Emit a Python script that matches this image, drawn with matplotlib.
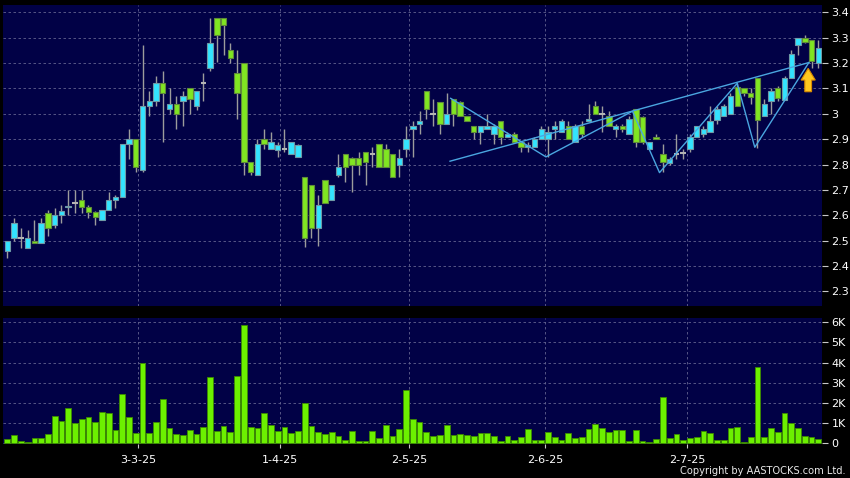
import matplotlib
matplotlib.use('Agg')
import matplotlib.pyplot as plt
from matplotlib.patches import FancyArrow
import numpy as np

# daily OHLC (121 sessions, Feb-Jul 2025)
opens = [2.46, 2.51, 2.51, 2.47, 2.50, 2.49, 2.61, 2.56, 2.60, 2.632, 2.65, 2.66, 2.632, 2.612, 2.58, 2.62, 2.66, 2.671, 2.88, 2.90,
         2.78, 3.03, 3.05, 3.12, 3.02, 3.04, 3.05, 3.10, 3.03, 3.12, 3.18, 3.376, 3.376, 3.25, 3.16, 3.20, 2.81, 2.76, 2.90, 2.86,
         2.857, 2.86, 2.84, 2.83, 2.75, 2.72, 2.55, 2.74, 2.66, 2.76, 2.84, 2.826, 2.826, 2.848, 2.84, 2.879, 2.86, 2.84, 2.80, 2.86,
         2.94, 2.96, 3.09, 3.00, 3.048, 2.96, 3.06, 3.048, 2.99, 2.95, 2.93, 2.94, 2.92, 2.97, 2.91, 2.92, 2.89, 2.87, 2.87, 2.90,
         2.90, 2.94, 2.93, 2.95, 2.89, 2.95, 2.97, 3.03, 3.00, 2.99, 2.94, 2.95, 2.92, 3.017, 2.987, 2.86, 2.91, 2.84, 2.807, 2.84,
         2.845, 2.86, 2.91, 2.92, 2.93, 2.975, 2.99, 3.00, 3.105, 3.10, 3.08, 3.14, 2.99, 3.05, 3.10, 3.056, 3.14, 3.27, 3.30, 3.29,
         3.20]
highs = [2.50, 2.59, 2.55, 2.54, 2.58, 2.59, 2.62, 2.63, 2.64, 2.70, 2.70, 2.70, 2.64, 2.615, 2.62, 2.69, 2.68, 2.88, 2.94, 2.90,
         3.27, 3.09, 3.15, 3.17, 3.10, 3.07, 3.09, 3.10, 3.09, 3.16, 3.376, 3.376, 3.376, 3.28, 3.25, 3.20, 2.81, 2.90, 2.94, 2.93,
         2.89, 2.94, 2.89, 2.88, 2.75, 2.72, 2.68, 2.74, 2.72, 2.84, 2.84, 2.83, 2.85, 2.85, 2.87, 2.88, 2.88, 2.84, 2.86, 2.95,
         2.97, 3.01, 3.09, 3.06, 3.048, 3.08, 3.06, 3.05, 2.99, 2.95, 2.95, 3.00, 2.96, 2.97, 2.93, 2.93, 2.89, 2.89, 2.91, 2.95,
         2.95, 2.97, 2.98, 2.97, 2.96, 2.97, 3.04, 3.05, 3.03, 3.01, 2.96, 2.96, 2.99, 3.017, 2.99, 2.89, 2.92, 2.88, 2.83, 2.92,
         2.86, 2.92, 2.95, 2.95, 3.03, 3.03, 3.04, 3.08, 3.12, 3.10, 3.10, 3.14, 3.06, 3.10, 3.11, 3.15, 3.25, 3.30, 3.31, 3.29,
         3.29]
lows = [2.43, 2.50, 2.47, 2.47, 2.49, 2.49, 2.52, 2.55, 2.57, 2.60, 2.61, 2.61, 2.59, 2.56, 2.58, 2.62, 2.63, 2.67, 2.82, 2.77,
        2.77, 2.99, 3.03, 2.89, 3.00, 2.94, 2.95, 3.00, 3.015, 3.05, 3.17, 3.205, 3.23, 3.20, 2.98, 2.76, 2.76, 2.76, 2.86, 2.86,
        2.83, 2.85, 2.84, 2.83, 2.475, 2.51, 2.48, 2.65, 2.66, 2.75, 2.73, 2.69, 2.76, 2.72, 2.79, 2.79, 2.79, 2.75, 2.75, 2.83,
        2.83, 2.92, 2.98, 2.95, 2.92, 2.96, 2.95, 2.99, 2.97, 2.90, 2.88, 2.94, 2.88, 2.88, 2.91, 2.89, 2.85, 2.85, 2.87, 2.90,
        2.83, 2.90, 2.93, 2.90, 2.89, 2.91, 2.97, 3.00, 2.93, 2.95, 2.91, 2.93, 2.92, 2.87, 2.88, 2.86, 2.90, 2.77, 2.80, 2.82,
        2.82, 2.85, 2.91, 2.91, 2.93, 2.96, 2.99, 3.00, 3.03, 3.07, 3.04, 2.865, 2.99, 3.00, 3.05, 3.056, 3.14, 3.23, 3.28, 3.18,
        3.18]
closes = [2.50, 2.57, 2.51, 2.51, 2.489, 2.57, 2.55, 2.60, 2.615, 2.638, 2.65, 2.632, 2.612, 2.592, 2.62, 2.66, 2.671, 2.88, 2.90, 2.79,
          3.03, 3.05, 3.12, 3.08, 3.04, 3.00, 3.07, 3.06, 3.09, 3.12, 3.28, 3.31, 3.35, 3.22, 3.08, 2.81, 2.77, 2.88, 2.88, 2.89,
          2.878, 2.86, 2.89, 2.877, 2.51, 2.55, 2.64, 2.65, 2.72, 2.79, 2.79, 2.80, 2.80, 2.81, 2.84, 2.79, 2.79, 2.75, 2.826, 2.90,
          2.952, 2.97, 3.02, 3.00, 2.958, 3.00, 3.00, 2.99, 2.97, 2.93, 2.95, 2.95, 2.95, 2.91, 2.92, 2.89, 2.87, 2.875, 2.90, 2.94,
          2.93, 2.95, 2.97, 2.90, 2.95, 2.92, 2.98, 3.00, 3.00, 2.95, 2.953, 2.94, 2.98, 2.89, 2.89, 2.89, 2.90, 2.81, 2.82, 2.84,
          2.845, 2.91, 2.95, 2.94, 2.97, 3.02, 3.03, 3.07, 3.03, 3.08, 3.065, 2.975, 3.04, 3.09, 3.064, 3.14, 3.236, 3.30, 3.285, 3.21,
          3.26]
# turnover in thousands
volumes = [0.21, 0.40, 0.12, 0.05, 0.28, 0.28, 0.45, 1.37, 1.09, 1.74, 0.99, 1.22, 1.29, 1.06, 1.57, 1.50, 0.68, 2.46, 1.29, 0.50,
           3.98, 0.51, 1.06, 2.21, 0.76, 0.46, 0.43, 0.66, 0.46, 0.81, 3.27, 0.63, 0.84, 0.55, 3.32, 5.85, 0.83, 0.74, 1.49, 0.91,
           0.61, 0.79, 0.51, 0.63, 2.00, 0.86, 0.58, 0.46, 0.56, 0.38, 0.15, 0.60, 0.13, 0.13, 0.60, 0.25, 0.93, 0.36, 0.69, 2.64,
           1.21, 1.07, 0.56, 0.36, 0.40, 0.91, 0.41, 0.48, 0.41, 0.38, 0.50, 0.51, 0.35, 0.12, 0.35, 0.17, 0.33, 0.69, 0.17, 0.17,
           0.55, 0.31, 0.18, 0.51, 0.26, 0.33, 0.71, 0.96, 0.76, 0.55, 0.64, 0.64, 0.10, 0.64, 0.13, 0.08, 0.23, 2.31, 0.28, 0.46,
           0.17, 0.25, 0.31, 0.60, 0.53, 0.17, 0.18, 0.78, 0.79, 0.07, 0.30, 3.77, 0.33, 0.76, 0.55, 1.49, 1.01, 0.74, 0.36, 0.30,
           0.20]

date_pos = [19.3, 40.4, 59.5, 79.6, 100.6]
date_labels = ['3-3-25', '1-4-25', '2-5-25', '2-6-25', '2-7-25']
price_ticks = [2.3, 2.4, 2.5, 2.6, 2.7, 2.8, 2.9, 3.0, 3.1, 3.2, 3.3, 3.4]
vol_ticks = [0, 1, 2, 3, 4, 5, 6]
vol_labels = ['0', '1K', '2K', '3K', '4K', '5K', '6K']

# zigzag / trendline overlay
zz_x = [65.6, 79.7, 92.5, 96.5, 108.0, 110.6, 118.6]
zz_y = [3.061, 2.830, 3.010, 2.768, 3.120, 2.868, 3.202]
trend_x = [65.5, 118.6]
trend_y = [2.813, 3.202]
arrow_x, arrow_base, arrow_tip = 118.5, 3.087, 3.179

navy = '#010146'
grid_col = '#62628f'
cyan = '#33e4ff'
green = '#80e622'

o = np.array(opens); h = np.array(highs); l = np.array(lows); c = np.array(closes)
x = np.arange(len(o))

fig = plt.figure(figsize=(8.5, 4.78), dpi=100, facecolor='black')
ax = fig.add_axes([3.3/850, 1-306/478, 818.4/850, 301/478])
ax2 = fig.add_axes([3.3/850, 1-443.5/478, 818.4/850, 125.5/478])

for a in (ax, ax2):
    a.set_facecolor(navy)
    for s in a.spines.values():
        s.set_visible(False)
    a.set_xlim(-0.6, 120.5)
    a.set_xticks(date_pos)
    a.grid(True, color=grid_col, ls=(0, (3, 3)), lw=0.6)
    a.set_axisbelow(True)
    a.yaxis.tick_right()
    a.tick_params(axis='y', colors='#c8c8c8', labelcolor='white', length=4, width=0.8, pad=3, labelsize=8)

# candles
ax.vlines(x, l, h, color='#9c9c9c', lw=1, zorder=2)
body = np.abs(c - o)
doji = body < 0.004
cols = np.where(c >= o, cyan, green)
edges = np.where(c >= o, '#6f9aa6', '#5f8a3a')
ax.bar(x[~doji], body[~doji], bottom=np.minimum(o, c)[~doji], width=0.8,
       color=cols[~doji], edgecolor=edges[~doji], lw=0.8, zorder=3)
ax.hlines(o[doji], x[doji] - 0.4, x[doji] + 0.4, color='#b4b4b4', lw=1.5, zorder=3)

ax.plot(zz_x, zz_y, color='#4aa6e0', lw=1, zorder=4)
ax.plot(trend_x, trend_y, color='#4aa6e0', lw=1, zorder=4)
ax.add_patch(FancyArrow(arrow_x, arrow_base, 0, arrow_tip - arrow_base, width=1.0,
                        head_width=2.1, head_length=0.046, length_includes_head=True,
                        facecolor='#ffc81e', edgecolor='#d88a00', lw=0.8, zorder=5))

ax.set_ylim(2.242, 3.429)
ax.set_yticks(price_ticks)
ax.set_yticklabels(['%g' % p for p in price_ticks])
ax.tick_params(axis='x', length=0, labelbottom=False)

# volume
ax2.bar(x, volumes, width=0.85, color='#6cf000', edgecolor='#3c8a00', lw=0.6, zorder=3)
ax2.set_ylim(-0.01, 6.21)
ax2.set_yticks(vol_ticks)
ax2.set_yticklabels(vol_labels)
ax2.set_xticklabels(date_labels)
ax2.tick_params(axis='x', colors='#c8c8c8', labelcolor='white', length=3, width=0.8, pad=5, labelsize=8)

fig.text(846/850, 1-471/478, 'Copyright by AASTOCKS.com Ltd.', color='#e8e8e8',
         fontsize=7.1, ha='right', va='center')

fig.savefig('out.png', dpi=100, facecolor='black')
